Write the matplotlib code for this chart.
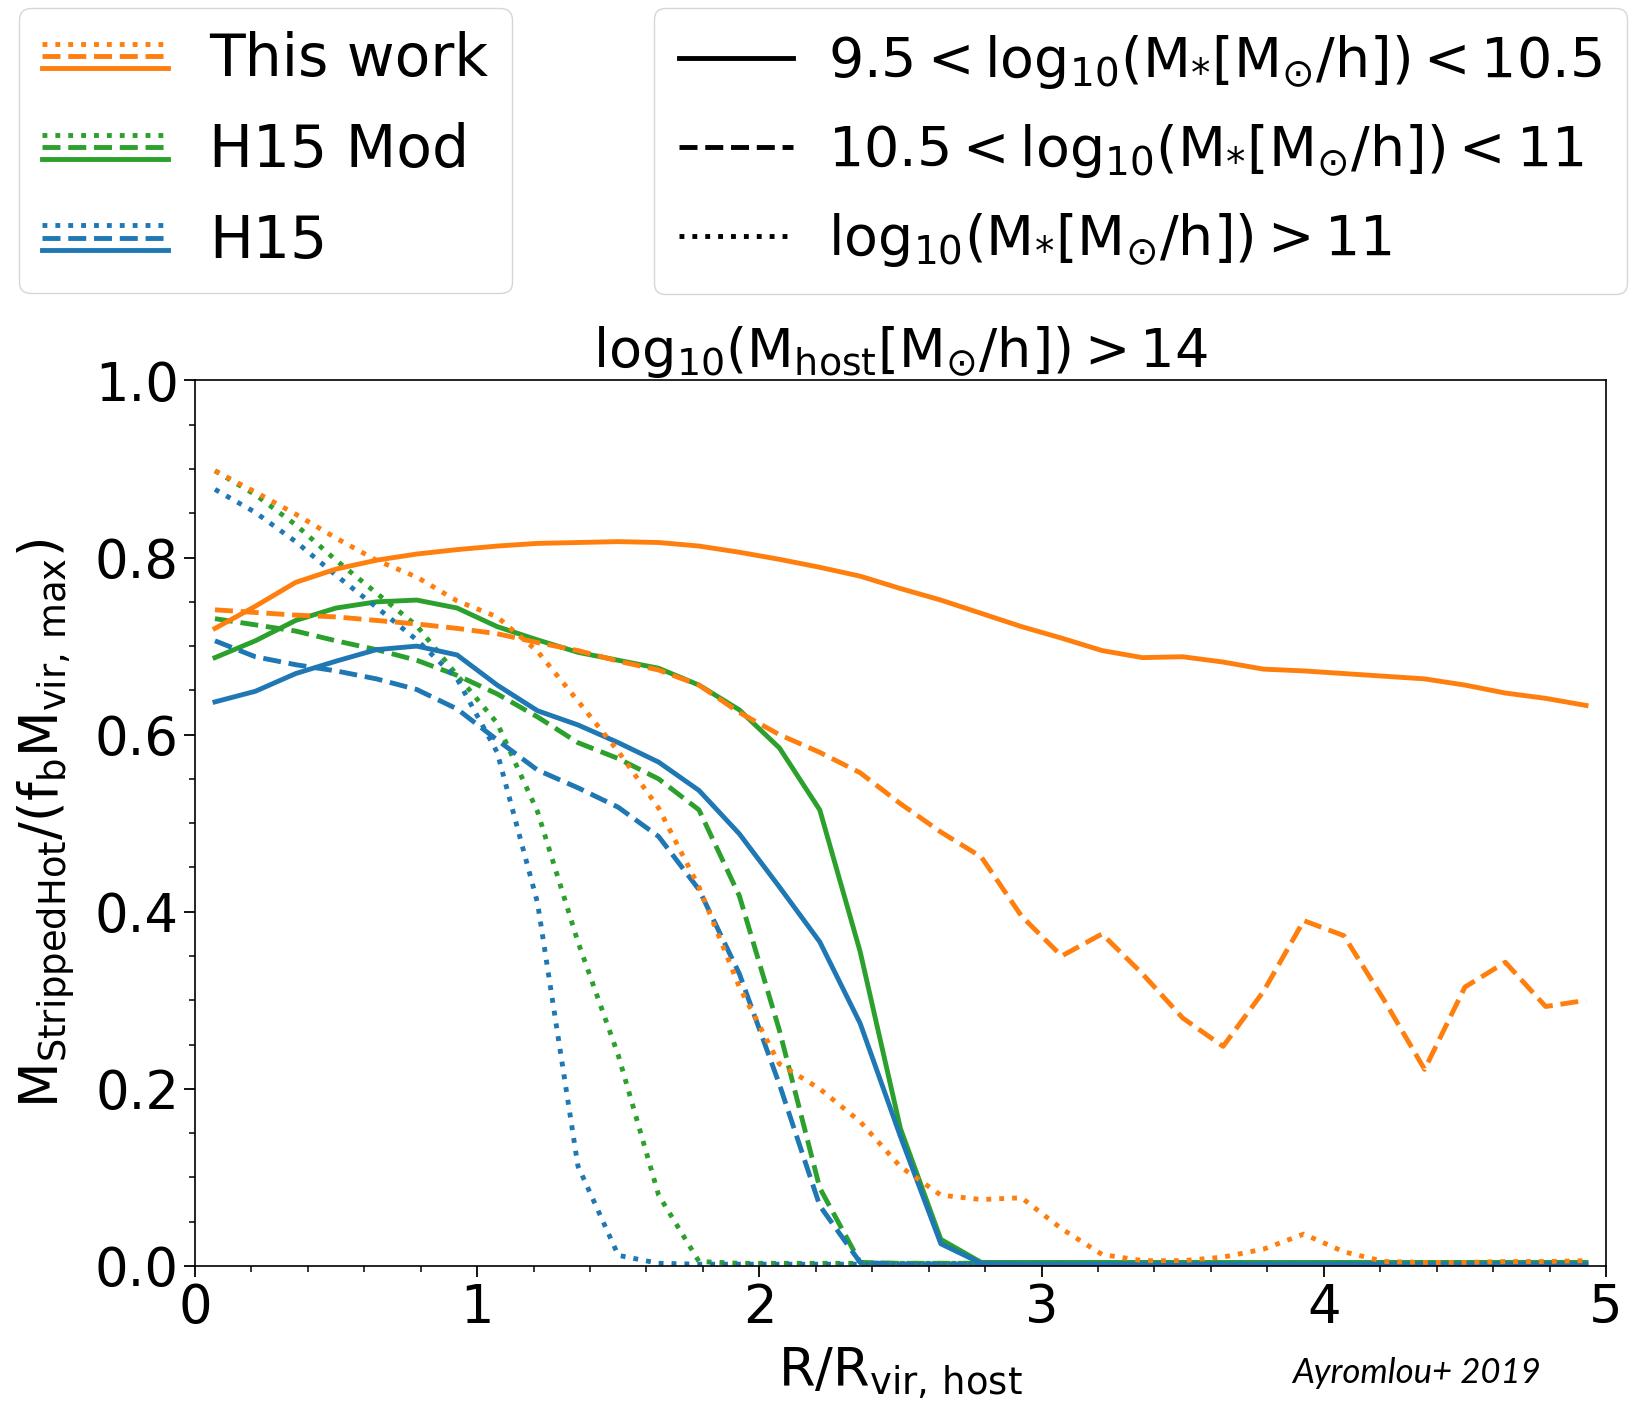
import matplotlib
matplotlib.use('Agg')
import matplotlib.pyplot as plt
from matplotlib.lines import Line2D
from matplotlib.legend_handler import HandlerBase
from matplotlib.ticker import AutoMinorLocator

plt.rcParams['mathtext.default'] = 'regular'

# bin centres in R/R_vir,host
r_bins = [0.071, 0.214, 0.357, 0.5, 0.643, 0.786, 0.929, 1.071, 1.214, 1.357,
          1.5, 1.643, 1.786, 1.929, 2.071, 2.214, 2.357, 2.5, 2.643, 2.786,
          2.929, 3.071, 3.214, 3.357, 3.5, 3.643, 3.786, 3.929, 4.071, 4.214,
          4.357, 4.5, 4.643, 4.786, 4.929]

# This work
tw_lo = [0.72, 0.745, 0.772, 0.787, 0.797, 0.804, 0.809, 0.813, 0.816, 0.817,
         0.818, 0.817, 0.813, 0.806, 0.798, 0.789, 0.779, 0.765, 0.752, 0.737,
         0.722, 0.709, 0.695, 0.687, 0.688, 0.682, 0.674, 0.672, 0.669, 0.666,
         0.663, 0.656, 0.647, 0.641, 0.633]
tw_mid = [0.741, 0.738, 0.735, 0.733, 0.729, 0.725, 0.72, 0.714, 0.704, 0.695,
          0.683, 0.673, 0.656, 0.625, 0.6, 0.58, 0.557, 0.522, 0.49, 0.462,
          0.395, 0.35, 0.375, 0.33, 0.28, 0.248, 0.31, 0.39, 0.373, 0.30,
          0.222, 0.315, 0.343, 0.293, 0.30]
tw_hi = [0.898, 0.874, 0.849, 0.822, 0.797, 0.778, 0.751, 0.733, 0.694, 0.638,
         0.581, 0.517, 0.428, 0.315, 0.228, 0.20, 0.163, 0.112, 0.08, 0.075,
         0.077, 0.042, 0.013, 0.006, 0.006, 0.01, 0.019, 0.036, 0.016, 0.005,
         0.004, 0.004, 0.005, 0.005, 0.006]

# H15 Mod
mod_lo = [0.687, 0.706, 0.729, 0.743, 0.75, 0.752, 0.743, 0.722, 0.707, 0.693,
          0.684, 0.675, 0.656, 0.628, 0.585, 0.515, 0.355, 0.155, 0.03, 0.004,
          0.004, 0.004, 0.004, 0.004, 0.004, 0.004, 0.004, 0.004, 0.004, 0.004,
          0.004, 0.004, 0.004, 0.004, 0.004]
mod_mid = [0.731, 0.724, 0.717, 0.706, 0.696, 0.684, 0.667, 0.646, 0.62, 0.591,
           0.573, 0.55, 0.515, 0.418, 0.266, 0.088, 0.004, 0.003, 0.003, 0.003,
           0.003, 0.003, 0.003, 0.003, 0.003, 0.003, 0.003, 0.003, 0.003, 0.003,
           0.003, 0.003, 0.003, 0.003, 0.003]
mod_hi = [0.898, 0.871, 0.837, 0.797, 0.76, 0.723, 0.667, 0.613, 0.513, 0.366,
          0.238, 0.08, 0.005, 0.003, 0.003, 0.003, 0.003, 0.003, 0.003, 0.003,
          0.003, 0.003, 0.003, 0.003, 0.003, 0.003, 0.003, 0.003, 0.003, 0.003,
          0.003, 0.003, 0.003, 0.003, 0.003]

# H15
h15_lo = [0.637, 0.649, 0.669, 0.683, 0.696, 0.70, 0.69, 0.656, 0.627, 0.611,
          0.591, 0.569, 0.537, 0.488, 0.428, 0.366, 0.274, 0.146, 0.025, 0.003,
          0.002, 0.002, 0.002, 0.002, 0.002, 0.002, 0.002, 0.002, 0.002, 0.002,
          0.002, 0.002, 0.002, 0.002, 0.002]
h15_mid = [0.706, 0.688, 0.679, 0.672, 0.663, 0.651, 0.629, 0.594, 0.56, 0.54,
           0.518, 0.485, 0.425, 0.33, 0.205, 0.068, 0.004, 0.002, 0.002, 0.002,
           0.002, 0.002, 0.002, 0.002, 0.002, 0.002, 0.002, 0.002, 0.002, 0.002,
           0.002, 0.002, 0.002, 0.002, 0.002]
h15_hi = [0.877, 0.851, 0.818, 0.78, 0.744, 0.707, 0.663, 0.58, 0.41, 0.113,
          0.012, 0.003, 0.002, 0.002, 0.002, 0.002, 0.002, 0.002, 0.002, 0.002,
          0.002, 0.002, 0.002, 0.002, 0.002, 0.002, 0.002, 0.002, 0.002, 0.002,
          0.002, 0.002, 0.002, 0.002, 0.002]

models = ['This work', 'H15 Mod', 'H15']
model_colors = ['#ff7f0e', '#2ca02c', '#1f77b4']
mass_labels = [r'$9.5 < log_{10}(M_{*}[M_{\odot}/h]) < 10.5$',
               r'$10.5 < log_{10}(M_{*}[M_{\odot}/h]) < 11$',
               r'$log_{10}(M_{*}[M_{\odot}/h]) > 11$']
styles = ['-', '--', ':']
LW = 3.5


class StackedLines(HandlerBase):
    # dotted / dashed / solid stacked in one legend entry
    def create_artists(self, legend, orig_handle, xdescent, ydescent,
                       width, height, fontsize, trans):
        c = orig_handle.get_color()
        yc = (height - ydescent) / 2
        gap = 0.21 * fontsize
        out = []
        for dy, ls in [(gap, ':'), (0, '--'), (-gap, '-')]:
            ln = Line2D([-xdescent, -xdescent + width], [yc + dy, yc + dy],
                        color=c, ls=ls, lw=LW)
            ln.set_transform(trans)
            out.append(ln)
        return out


fig = plt.figure(figsize=(16.34, 14.06), dpi=100)
ax = fig.add_axes([0.1193, 0.0996, 0.8636, 0.6298])

series = {
    'H15 Mod': (mod_lo, mod_mid, mod_hi),
    'H15': (h15_lo, h15_mid, h15_hi),
    'This work': (tw_lo, tw_mid, tw_hi),
}
for name in ['H15 Mod', 'H15', 'This work']:
    c = model_colors[models.index(name)]
    for vals, ls in zip(series[name], styles):
        ax.plot(r_bins, vals, color=c, ls=ls, lw=LW)

ax.set_xlim(0, 5)
ax.set_ylim(0, 1)
ax.xaxis.set_minor_locator(AutoMinorLocator(5))
ax.yaxis.set_minor_locator(AutoMinorLocator(4))
ax.tick_params(which='major', labelsize=38, length=8, width=1.3)
ax.tick_params(which='minor', length=4, width=1.1)
for s in ax.spines.values():
    s.set_linewidth(1.2)

ax.set_title(r'$log_{10}(M_{host}[M_{\odot}/h]) > 14$', fontsize=39, pad=10)
ax.set_xlabel(r'$R/R_{vir,\,host}$', fontsize=38, labelpad=8)
ax.set_ylabel(r'$M_{StrippedHot}/(f_b M_{vir,\,max})$', fontsize=38, labelpad=12)

h1 = [Line2D([], [], color=c) for c in model_colors]
fig.legend(h1, models, handler_map={Line2D: StackedLines()},
           loc='upper left', bbox_to_anchor=(19 / 1634, 1 - 8 / 1406),
           borderaxespad=0, fontsize=42, handlelength=2.15,
           handletextpad=0.71, labelspacing=0.58, borderpad=0.4)

h2 = [Line2D([], [], color='k', ls=ls, lw=LW) for ls in styles]
fig.legend(h2, mass_labels, loc='upper left',
           bbox_to_anchor=(654 / 1634, 1 - 8 / 1406),
           borderaxespad=0, fontsize=40, handlelength=2.05,
           handletextpad=0.64, labelspacing=0.56, borderpad=0.45)

fig.text(1292 / 1634, 1 - 1373 / 1406, 'Ayromlou+ 2019', fontsize=25,
         style='italic', family='Lato', va='center')

fig.savefig('out.png', dpi=100)
